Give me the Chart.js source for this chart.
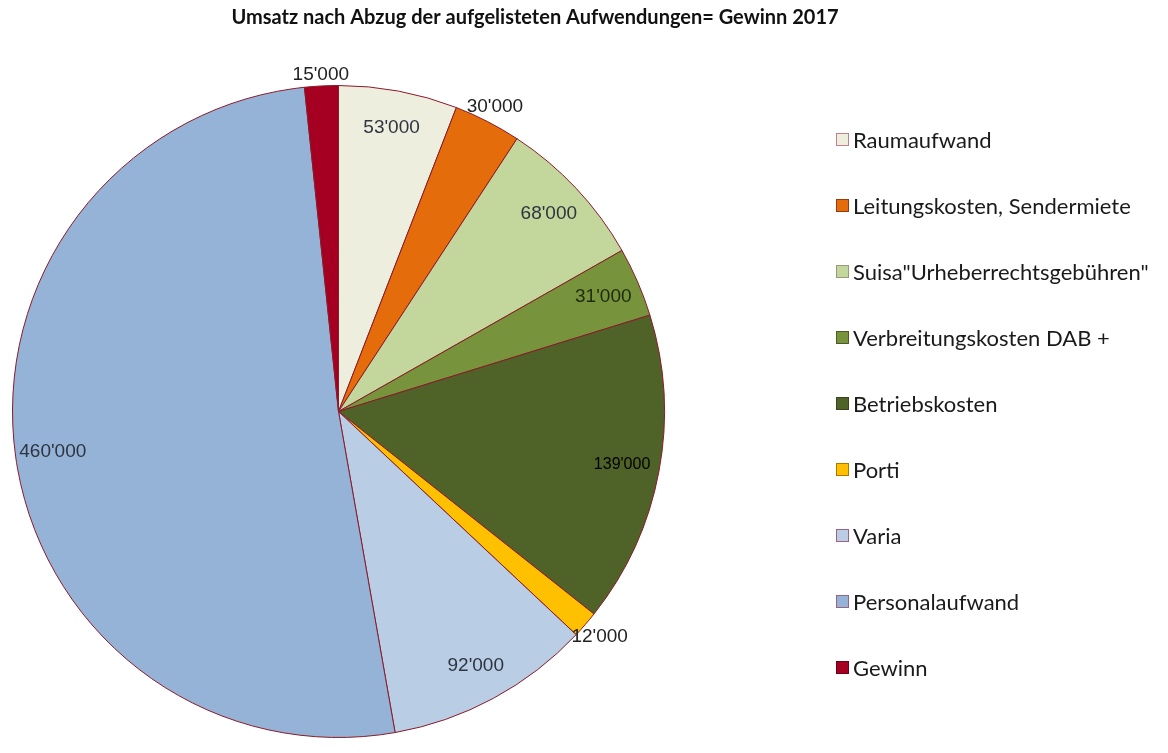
<!DOCTYPE html>
<html>
<head>
<meta charset="utf-8">
<script src="https://cdn.jsdelivr.net/npm/chart.js@4"></script>
<style>
  html, body { margin: 0; padding: 0; background: #fff; }
  #wrap { width: 1168px; height: 753px; position: relative; }
</style>
</head>
<body>
<div id="wrap"><canvas id="myChart"></canvas></div>
<script>
const title = 'Umsatz nach Abzug der aufgelisteten Aufwendungen= Gewinn 2017';

const categories = [
    'Raumaufwand',
    'Leitungskosten, Sendermiete',
    'Suisa"Urheberrechtsgebühren"',
    'Verbreitungskosten DAB +',
    'Betriebskosten',
    'Porti',
    'Varia',
    'Personalaufwand',
    'Gewinn'
];
const values = [53000, 30000, 68000, 31000, 139000, 12000, 92000, 460000, 15000];
const valueLabels = ["53'000", "30'000", "68'000", "31'000", "139'000", "12'000", "92'000", "460'000", "15'000"];

const colors = ['#eeeedf', '#e46c0a', '#c3d69b', '#77933c', '#4f6228', '#ffc000', '#b9cde5', '#95b3d7', '#a50021'];
const legendBorders = ['#c0808a', '#9a3a10', '#9a9a7a', '#4a5a28', '#3a4420', '#b07800', '#a06080', '#a06080', '#700018'];
// which slices get their value written outside the pie
const outsideLabel = ['Leitungskosten, Sendermiete', 'Porti', 'Gewinn'];

// slice value labels
const sliceLabels = {
    id: 'sliceLabels',
    afterDatasetsDraw(chart) {
        const c = chart.ctx;
        const arcs = chart.getDatasetMeta(0).data;
        c.save();
        c.textAlign = 'center';
        c.textBaseline = 'middle';
        arcs.forEach((arc, i) => {
            const p = arc.getProps(['x', 'y', 'startAngle', 'endAngle', 'outerRadius'], true);
            const mid = (p.startAngle + p.endAngle) / 2;
            const outside = outsideLabel.includes(categories[i]);
            const fs = values[i] === 139000 ? 16 : 19;
            c.font = fs + 'px "Liberation Sans", Arial, sans-serif';
            const w = c.measureText(valueLabels[i]).width;
            let r;
            if (outside) {
                const ext = Math.abs(Math.cos(mid)) * w / 2 + Math.abs(Math.sin(mid)) * fs / 2;
                r = p.outerRadius * 1.02 + ext * 0.45;
                c.fillStyle = '#222';
            } else {
                r = p.outerRadius * 0.885;
                c.fillStyle = values[i] === 139000 ? '#000' : (values[i] === 31000 ? '#1e2a10' : '#2e3440');
            }
            c.fillText(valueLabels[i], p.x + Math.cos(mid) * r, p.y + Math.sin(mid) * r);
        });
        c.restore();
    }
};

// title and the right hand legend
const decor = {
    id: 'decor',
    afterDraw(chart) {
        const c = chart.ctx;
        c.save();
        c.fillStyle = '#111';
        c.font = 'bold 20px Lato, "Open Sans", sans-serif';
        c.textAlign = 'center';
        c.textBaseline = 'middle';
        c.fillText(title, 535, 18);

        c.textAlign = 'left';
        c.font = '22px Lato, "Open Sans", sans-serif';
        categories.forEach((name, i) => {
            const y = 140 + i * 66;
            c.fillStyle = colors[i];
            c.fillRect(836.5, y - 6.5, 12, 12);
            c.strokeStyle = legendBorders[i];
            c.lineWidth = 1;
            c.strokeRect(836.5, y - 6.5, 12, 12);
            c.fillStyle = '#1a1a1a';
            c.fillText(name, 853, y + 1);
        });
        c.restore();
    }
};

const ctx = document.getElementById('myChart');
const myChart = new Chart(ctx, {
    type: 'pie',
    data: {
        labels: categories,
        datasets: [{
            data: values,
            backgroundColor: colors,
            borderColor: '#8b1a2a',
            borderWidth: 1,
            hoverOffset: 0
        }]
    },
    options: {
        responsive: true,
        maintainAspectRatio: false,
        animation: false,
        layout: { padding: { left: 12, top: 85, right: 503, bottom: 15 } },
        plugins: {
            legend: { display: false },
            title: { display: false },
            tooltip: { enabled: false }
        }
    },
    plugins: [sliceLabels, decor]
});
</script>
</body>
</html>
